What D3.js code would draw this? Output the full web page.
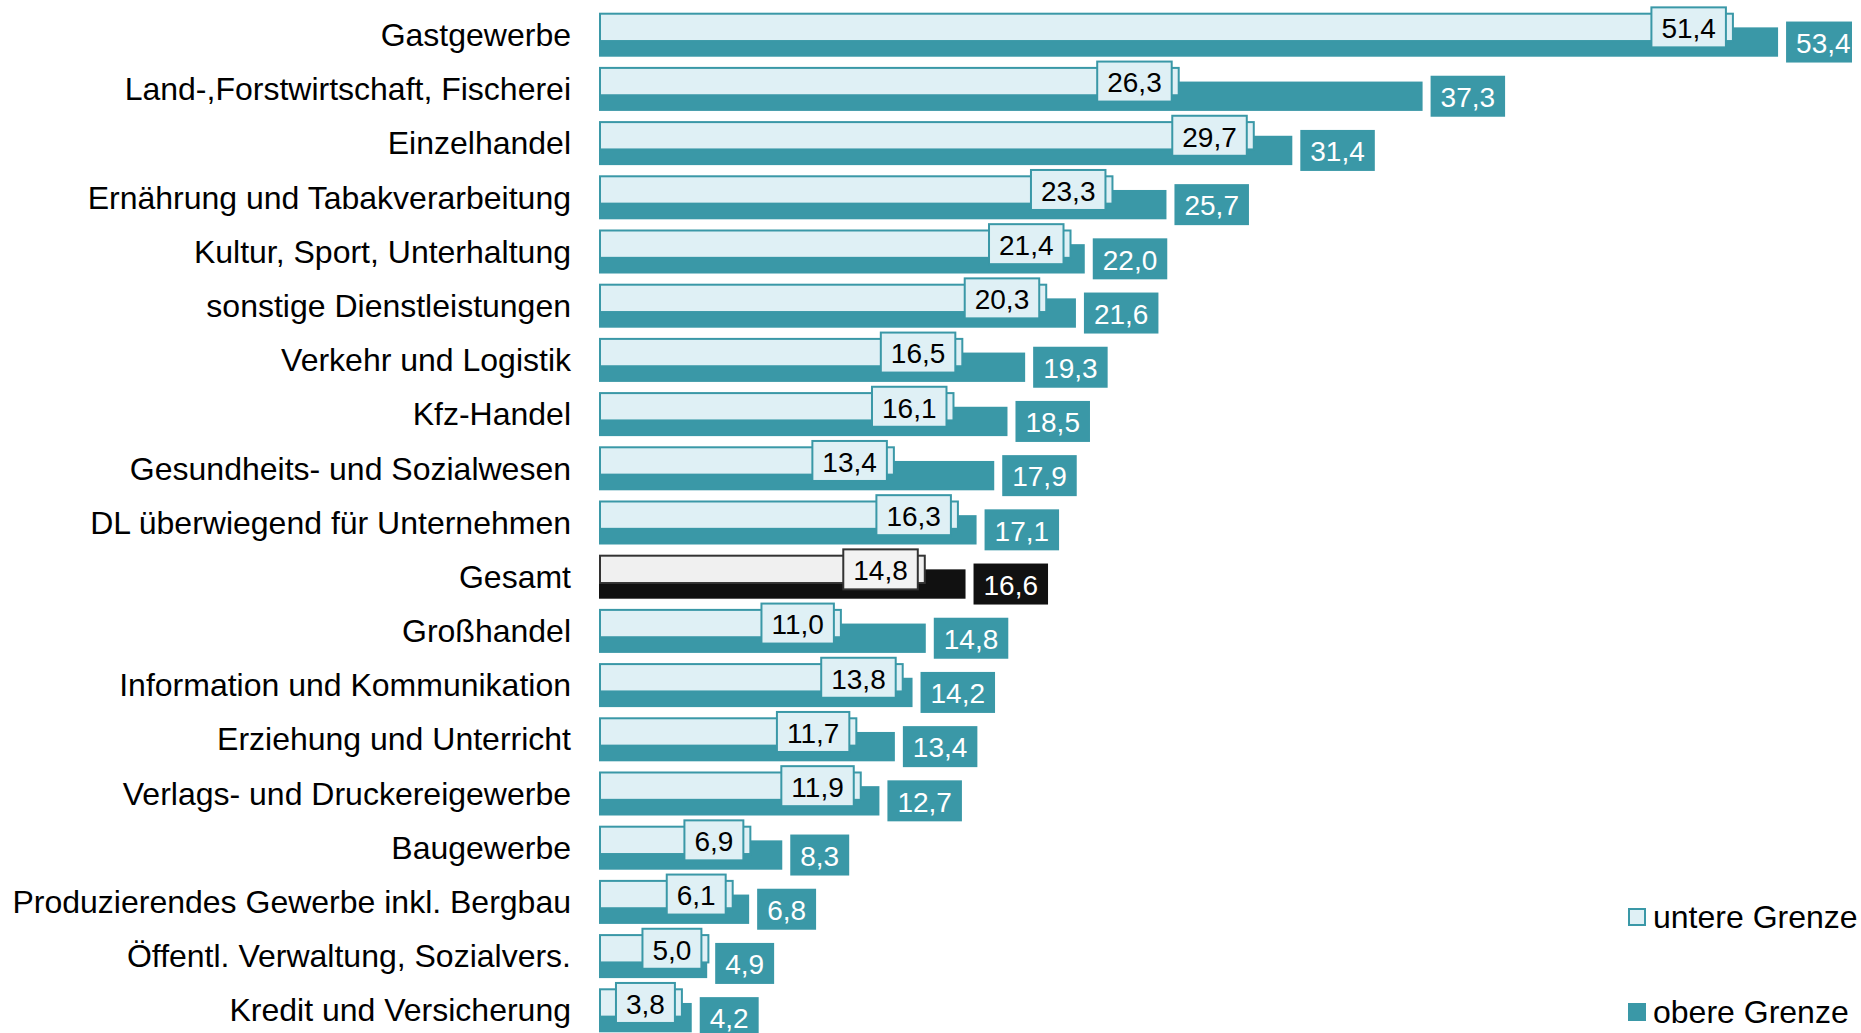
<!DOCTYPE html>
<html>
<head>
<meta charset="utf-8">
<script src="https://cdn.jsdelivr.net/npm/d3@7"></script>
<style>
  body { margin: 0; background: #fff; }
  text { font-family: "Liberation Sans", Arial, sans-serif; }
</style>
</head>
<body>
<div class="chart"></div>
<script>
// categories, top to bottom
var branchen = ["Gastgewerbe", "Land-,Forstwirtschaft, Fischerei", "Einzelhandel",
    "Ernährung und Tabakverarbeitung", "Kultur, Sport, Unterhaltung", "sonstige Dienstleistungen",
    "Verkehr und Logistik", "Kfz-Handel", "Gesundheits- und Sozialwesen",
    "DL überwiegend für Unternehmen", "Gesamt", "Großhandel", "Information und Kommunikation",
    "Erziehung und Unterricht", "Verlags- und Druckereigewerbe", "Baugewerbe",
    "Produzierendes Gewerbe inkl. Bergbau", "Öffentl. Verwaltung, Sozialvers.", "Kredit und Versicherung"]
var untereGrenze = [51.4, 26.3, 29.7, 23.3, 21.4, 20.3, 16.5, 16.1, 13.4, 16.3, 14.8, 11.0, 13.8, 11.7, 11.9, 6.9, 6.1, 5.0, 3.8]
var obereGrenze = [53.4, 37.3, 31.4, 25.7, 22.0, 21.6, 19.3, 18.5, 17.9, 17.1, 16.6, 14.8, 14.2, 13.4, 12.7, 8.3, 6.8, 4.9, 4.2]
var legendLabels = ["untere Grenze", "obere Grenze"]

var width = 1861, height = 1033;
var teal = "#3a98a7", light = "#dff0f5";

var data = branchen.map(function (b, i) {
    return { name: b, lo: untereGrenze[i], hi: obereGrenze[i], total: b == "Gesamt" };
});

var svg = d3.select(".chart")
    .append("svg")
    .attr("width", width)
    .attr("height", height);

var x = d3.scaleLinear()
    .domain([0, 60])
    .range([599, 599 + 22.08 * 60]);

var y = d3.scaleBand()
    .domain(branchen)
    .range([12.7, 1032.3])
    .paddingInner(0.188)
    .paddingOuter(0);

var bh = y.bandwidth() * 2 / 3;
var fmt = function (v) { return d3.format(".1f")(v).replace(".", ","); };

// category labels
svg.append("g")
    .selectAll("text")
    .data(data)
    .join("text")
    .attr("x", 571)
    .attr("y", function (d) { return y(d.name) + y.bandwidth() / 2; })
    .attr("dy", "0.35em")
    .attr("text-anchor", "end")
    .style("font-size", "32px")
    .style("fill", "#000")
    .text(function (d) { return d.name; });

// upper bars (behind)
svg.append("g")
    .selectAll("rect")
    .data(data)
    .join("rect")
    .attr("x", x(0))
    .attr("y", function (d) { return y(d.name) + y.bandwidth() / 3; })
    .attr("width", function (d) { return x(d.hi) - x(0); })
    .attr("height", bh)
    .style("fill", function (d) { return d.total ? "#111" : teal; });

// lower bars (front)
svg.append("g")
    .selectAll("rect")
    .data(data)
    .join("rect")
    .attr("x", x(0) + 1)
    .attr("y", function (d) { return y(d.name) + 1; })
    .attr("width", function (d) { return x(d.lo) - x(0) - 2; })
    .attr("height", bh - 2)
    .style("fill", function (d) { return d.total ? "#f0f0f0" : light; })
    .style("stroke", function (d) { return d.total ? "#333" : teal; })
    .style("stroke-width", 2);

// value labels, lower bound (inside end)
var loLab = svg.append("g")
    .selectAll("g")
    .data(data)
    .join("g");

loLab.append("text")
    .attr("class", "lo")
    .attr("text-anchor", "middle")
    .attr("dy", "0.35em")
    .style("font-size", "28px")
    .style("fill", "#000")
    .text(function (d) { return fmt(d.lo); });

loLab.each(function (d) {
    var g = d3.select(this);
    var t = g.select("text");
    var w = t.node().getComputedTextLength() + 20;
    var cx = x(d.lo) - 8 - w / 2;
    var cy = y(d.name) + bh / 2;
    g.insert("rect", "text")
        .attr("x", cx - w / 2)
        .attr("y", cy - 20)
        .attr("width", w)
        .attr("height", 40)
        .style("fill", d.total ? "#f2f2f2" : light)
        .style("stroke", d.total ? "#333" : teal)
        .style("stroke-width", 2);
    t.attr("x", cx).attr("y", cy + 1);
});

// value labels, upper bound (outside end)
var rightLimit = 1852;
var hiLab = svg.append("g")
    .selectAll("g")
    .data(data)
    .join("g");

hiLab.append("text")
    .attr("text-anchor", "middle")
    .attr("dy", "0.35em")
    .style("font-size", "28px")
    .style("fill", "#fff")
    .text(function (d) { return fmt(d.hi); });

hiLab.each(function (d) {
    var g = d3.select(this);
    var t = g.select("text");
    var w = t.node().getComputedTextLength() + 20;
    var x0 = x(d.hi) + 8;
    var cy = y(d.name) + y.bandwidth() / 3 + bh / 2;
    g.insert("rect", "text")
        .attr("x", x0)
        .attr("y", cy - 20.5)
        .attr("width", Math.min(w, rightLimit - x0))
        .attr("height", 41)
        .style("fill", d.total ? "#111" : teal);
    t.attr("x", x0 + w / 2).attr("y", cy + 1);
});

// legend
var legend = svg.append("g")
    .selectAll("g")
    .data(legendLabels)
    .join("g")
    .attr("transform", function (d, i) { return "translate(1628," + (908 + i * 95) + ")"; });

legend.append("rect")
    .attr("x", function (d, i) { return i == 0 ? 1 : 0; })
    .attr("y", function (d, i) { return i == 0 ? 1 : 0; })
    .attr("width", function (d, i) { return i == 0 ? 16 : 18; })
    .attr("height", function (d, i) { return i == 0 ? 16 : 18; })
    .style("fill", function (d, i) { return i == 0 ? light : teal; })
    .style("stroke", function (d, i) { return i == 0 ? teal : "none"; })
    .style("stroke-width", 2);

legend.append("text")
    .attr("x", 25)
    .attr("y", 20)
    .style("font-size", "32px")
    .style("fill", "#000")
    .text(function (d) { return d; });
</script>
</body>
</html>
